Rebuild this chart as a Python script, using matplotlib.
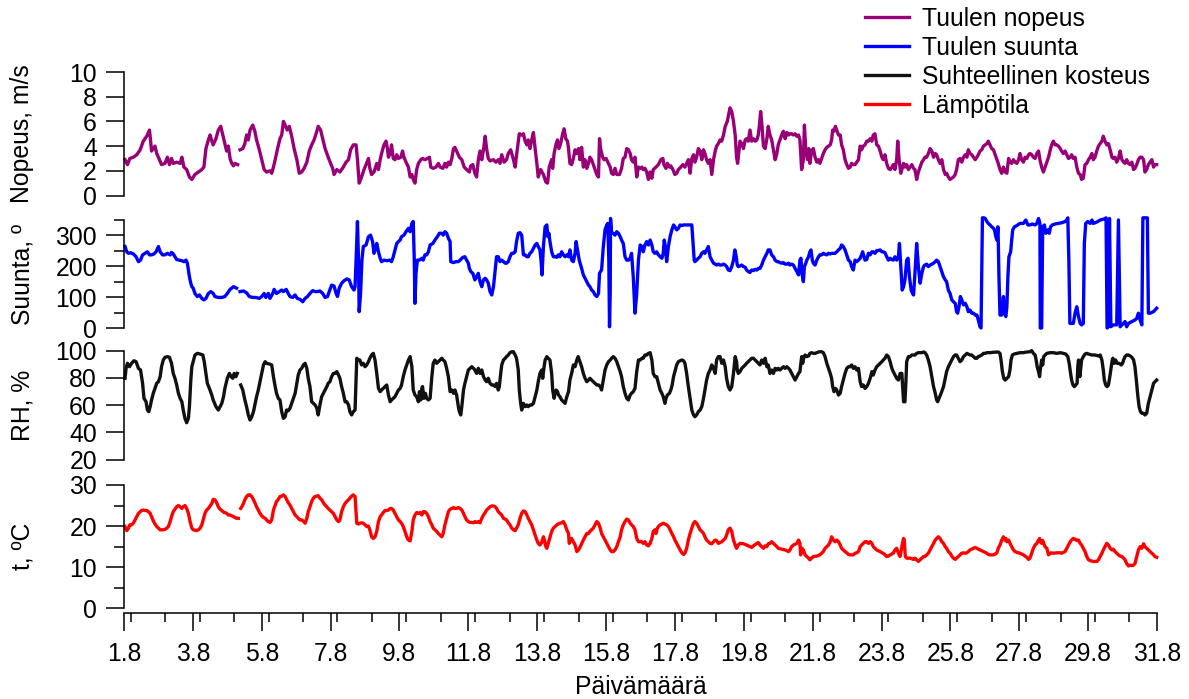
import numpy as np
import matplotlib.pyplot as plt
from matplotlib.ticker import MultipleLocator

nan = np.nan

# (day of August, value); nan marks the short gap in the record
speed_pts = [
    (1.83, 2.9), (1.90, 2.5), (1.97, 3.0), (2.07, 3.1), (2.17, 3.3), (2.27, 3.7), (2.36, 4.4), (2.46, 4.8),
    (2.54, 5.3), (2.57, 4.5), (2.60, 3.6), (2.65, 3.8), (2.70, 4.0), (2.75, 3.4), (2.83, 2.9), (2.89, 2.5),
    (2.99, 2.6), (3.06, 3.1), (3.12, 2.5), (3.18, 3.0), (3.23, 2.6), (3.33, 2.7), (3.43, 2.6), (3.48, 3.1),
    (3.54, 2.3), (3.62, 2.1), (3.70, 1.5), (3.77, 1.3), (3.86, 1.7), (3.96, 1.9), (4.06, 2.1), (4.12, 2.3),
    (4.18, 3.8), (4.25, 4.5), (4.30, 4.9), (4.35, 4.4), (4.39, 4.1), (4.47, 4.6), (4.54, 5.3), (4.61, 5.6),
    (4.67, 4.9), (4.73, 4.2), (4.78, 3.6), (4.83, 4.0), (4.88, 3.0), (4.93, 2.6), (4.98, 2.4), (5.02, 2.6),
    (5.10, 2.5), (5.14, nan), (5.17, 3.7), (5.25, 3.8), (5.31, 4.2), (5.36, 4.9), (5.41, 4.5), (5.46, 5.3),
    (5.54, 5.7), (5.60, 5.2), (5.65, 4.5), (5.73, 3.7), (5.80, 2.9), (5.87, 2.1), (5.94, 1.9), (6.04, 2.0),
    (6.09, 1.8), (6.14, 2.3), (6.19, 2.9), (6.26, 3.8), (6.33, 4.6), (6.38, 4.9), (6.43, 6.0), (6.48, 5.7),
    (6.54, 5.3), (6.60, 5.6), (6.67, 4.8), (6.74, 3.8), (6.82, 2.9), (6.89, 1.8), (6.96, 1.9), (7.03, 2.2),
    (7.11, 2.7), (7.18, 3.6), (7.25, 4.1), (7.32, 4.5), (7.40, 5.2), (7.44, 5.6), (7.51, 5.3), (7.57, 4.6),
    (7.64, 3.8), (7.73, 3.1), (7.80, 2.6), (7.86, 2.2), (7.90, 1.7), (7.98, 2.1), (8.07, 1.9), (8.17, 2.3),
    (8.25, 2.7), (8.32, 2.9), (8.38, 3.7), (8.46, 4.1), (8.54, 4.1), (8.58, 2.9), (8.63, 1.0), (8.70, 1.5),
    (8.77, 2.1), (8.83, 2.5), (8.90, 3.0), (8.94, 2.2), (8.99, 1.7), (9.06, 1.9), (9.14, 2.6), (9.19, 2.1),
    (9.24, 2.9), (9.28, 3.4), (9.35, 4.1), (9.41, 4.4), (9.45, 3.8), (9.48, 3.1), (9.53, 3.4), (9.57, 4.1),
    (9.62, 3.0), (9.67, 2.9), (9.72, 3.3), (9.77, 3.0), (9.84, 3.1), (9.89, 3.6), (9.93, 3.1), (9.99, 2.7),
    (10.06, 2.3), (10.11, 1.5), (10.16, 1.7), (10.20, 1.3), (10.25, 1.0), (10.30, 2.1), (10.35, 2.6), (10.42, 2.9),
    (10.47, 3.0), (10.54, 2.9), (10.61, 3.0), (10.67, 3.1), (10.71, 2.3), (10.78, 2.2), (10.86, 2.3), (10.93, 2.6),
    (10.98, 2.3), (11.06, 2.2), (11.12, 2.6), (11.17, 2.3), (11.22, 2.7), (11.27, 2.5), (11.32, 3.0), (11.37, 3.8),
    (11.41, 3.9), (11.46, 3.6), (11.54, 3.1), (11.61, 2.9), (11.68, 2.3), (11.75, 2.1), (11.83, 1.9), (11.87, 2.4),
    (11.93, 2.5), (11.99, 1.8), (12.04, 1.5), (12.09, 2.9), (12.14, 3.6), (12.19, 2.9), (12.24, 3.7), (12.29, 4.8),
    (12.33, 3.8), (12.38, 3.0), (12.43, 2.8), (12.53, 2.9), (12.60, 2.7), (12.67, 2.9), (12.72, 2.6), (12.77, 3.3),
    (12.84, 2.7), (12.91, 2.9), (12.96, 3.4), (13.03, 3.7), (13.11, 2.9), (13.16, 2.3), (13.22, 3.7), (13.28, 5.0),
    (13.35, 4.9), (13.40, 5.0), (13.45, 4.4), (13.50, 4.1), (13.54, 4.5), (13.59, 3.8), (13.64, 4.5), (13.69, 5.1),
    (13.74, 3.8), (13.79, 2.6), (13.83, 1.5), (13.90, 2.1), (13.98, 1.7), (14.05, 1.1), (14.10, 1.0), (14.15, 2.3),
    (14.22, 2.9), (14.25, 2.2), (14.29, 3.4), (14.35, 4.2), (14.39, 4.5), (14.43, 3.8), (14.48, 4.2), (14.54, 5.0),
    (14.58, 5.4), (14.63, 4.6), (14.68, 4.4), (14.71, 3.8), (14.75, 2.6), (14.80, 2.5), (14.85, 3.0), (14.90, 3.7),
    (14.95, 3.4), (15.00, 3.8), (15.04, 2.9), (15.09, 3.9), (15.14, 2.3), (15.19, 2.9), (15.24, 2.2), (15.29, 2.6),
    (15.33, 3.1), (15.38, 2.9), (15.43, 2.5), (15.48, 2.1), (15.53, 1.7), (15.58, 1.5), (15.61, 4.6), (15.64, 3.8),
    (15.70, 3.1), (15.74, 2.9), (15.80, 3.0), (15.87, 2.6), (15.92, 2.3), (15.96, 1.8), (16.01, 1.7), (16.06, 2.2),
    (16.11, 1.7), (16.19, 1.7), (16.25, 2.2), (16.30, 3.0), (16.35, 3.1), (16.40, 3.8), (16.45, 3.7), (16.50, 3.4),
    (16.54, 2.9), (16.59, 2.7), (16.64, 3.1), (16.69, 1.5), (16.74, 2.3), (16.79, 2.2), (16.84, 2.3), (16.88, 2.1),
    (16.93, 2.2), (16.98, 1.9), (17.03, 1.3), (17.08, 1.9), (17.13, 1.4), (17.17, 2.1), (17.25, 2.3), (17.32, 2.5),
    (17.39, 2.9), (17.45, 3.0), (17.48, 2.5), (17.54, 2.2), (17.58, 2.6), (17.64, 2.3), (17.68, 2.4), (17.74, 2.1),
    (17.80, 1.7), (17.85, 1.8), (17.90, 2.1), (17.97, 2.3), (18.03, 2.5), (18.09, 2.3), (18.14, 2.6), (18.19, 2.9),
    (18.24, 1.8), (18.29, 3.0), (18.34, 3.3), (18.38, 2.7), (18.43, 3.1), (18.48, 3.8), (18.53, 3.6), (18.58, 2.9),
    (18.63, 3.7), (18.67, 3.4), (18.72, 2.9), (18.77, 2.6), (18.82, 2.9), (18.87, 1.7), (18.92, 2.9), (18.97, 3.6),
    (19.01, 4.0), (19.06, 4.2), (19.11, 4.5), (19.16, 4.4), (19.21, 4.9), (19.26, 5.6), (19.32, 6.0), (19.40, 7.1),
    (19.45, 6.8), (19.50, 6.0), (19.55, 4.9), (19.59, 3.1), (19.62, 2.6), (19.65, 3.4), (19.69, 4.4), (19.74, 4.2),
    (19.79, 3.8), (19.84, 4.5), (19.88, 4.6), (19.93, 4.4), (19.98, 5.3), (20.03, 4.4), (20.08, 4.6), (20.13, 4.4),
    (20.18, 4.5), (20.22, 4.9), (20.25, 5.6), (20.29, 6.8), (20.33, 5.6), (20.37, 4.0), (20.42, 3.8), (20.47, 4.6),
    (20.51, 5.6), (20.56, 4.9), (20.61, 4.5), (20.66, 3.7), (20.71, 2.9), (20.76, 3.4), (20.80, 4.1), (20.85, 4.5),
    (20.90, 4.9), (20.95, 5.2), (21.00, 4.6), (21.05, 5.1), (21.10, 4.9), (21.14, 5.0), (21.19, 5.0), (21.24, 4.9),
    (21.29, 5.0), (21.34, 4.8), (21.39, 4.9), (21.43, 4.5), (21.48, 2.1), (21.53, 2.9), (21.56, 5.7), (21.60, 3.7),
    (21.65, 2.9), (21.69, 3.8), (21.72, 2.6), (21.77, 3.6), (21.82, 3.8), (21.87, 3.1), (21.92, 2.7), (21.97, 2.9),
    (22.01, 2.6), (22.06, 3.0), (22.11, 3.4), (22.16, 3.7), (22.21, 3.9), (22.26, 4.0), (22.31, 4.1), (22.35, 4.5),
    (22.38, 5.3), (22.42, 5.2), (22.46, 5.6), (22.50, 5.3), (22.55, 4.9), (22.60, 4.9), (22.64, 4.1), (22.69, 3.7),
    (22.74, 2.9), (22.79, 2.5), (22.84, 2.2), (22.89, 2.3), (22.93, 2.6), (22.98, 2.5), (23.03, 2.5), (23.08, 2.7),
    (23.13, 2.9), (23.18, 4.0), (23.22, 3.7), (23.27, 4.0), (23.32, 4.1), (23.37, 4.4), (23.42, 4.4), (23.47, 4.6),
    (23.52, 4.4), (23.56, 4.9), (23.61, 5.0), (23.66, 4.1), (23.71, 4.0), (23.76, 3.6), (23.81, 3.1), (23.85, 2.9),
    (23.90, 3.3), (23.95, 2.6), (24.00, 2.2), (24.05, 2.1), (24.10, 2.3), (24.14, 2.5), (24.19, 2.1), (24.24, 2.9),
    (24.27, 4.4), (24.31, 2.9), (24.36, 1.8), (24.39, 2.1), (24.44, 2.6), (24.48, 2.3), (24.53, 2.5), (24.58, 2.1),
    (24.63, 2.3), (24.68, 2.5), (24.73, 2.2), (24.77, 2.1), (24.82, 1.3), (24.87, 1.9), (24.92, 2.3), (24.97, 2.7),
    (25.02, 2.9), (25.06, 3.1), (25.11, 3.1), (25.16, 3.4), (25.21, 3.8), (25.26, 3.6), (25.31, 3.1), (25.36, 3.4),
    (25.40, 3.3), (25.45, 2.9), (25.50, 2.6), (25.55, 2.9), (25.60, 2.1), (25.65, 1.7), (25.69, 1.8), (25.74, 1.5),
    (25.79, 1.3), (25.84, 1.4), (25.89, 1.5), (25.94, 1.7), (25.98, 2.1), (26.03, 2.9), (26.08, 3.0), (26.13, 2.7),
    (26.18, 3.1), (26.23, 3.3), (26.28, 3.1), (26.32, 3.7), (26.37, 3.4), (26.42, 3.3), (26.47, 3.1), (26.52, 2.9),
    (26.57, 3.1), (26.61, 3.3), (26.66, 3.6), (26.71, 3.7), (26.76, 4.0), (26.81, 4.1), (26.86, 4.2), (26.90, 4.4),
    (26.95, 4.1), (27.00, 3.8), (27.05, 3.7), (27.10, 3.3), (27.15, 2.9), (27.19, 2.6), (27.24, 2.1), (27.29, 1.8),
    (27.34, 2.3), (27.39, 1.9), (27.44, 1.8), (27.49, 3.0), (27.53, 2.7), (27.58, 2.6), (27.63, 2.9), (27.68, 2.7),
    (27.73, 2.6), (27.78, 2.9), (27.82, 3.4), (27.87, 2.9), (27.92, 2.7), (27.97, 3.1), (28.02, 3.0), (28.07, 3.3),
    (28.11, 3.4), (28.16, 3.3), (28.21, 3.1), (28.26, 3.0), (28.31, 3.4), (28.36, 3.6), (28.40, 2.9), (28.45, 2.3),
    (28.50, 1.9), (28.55, 2.3), (28.60, 2.7), (28.65, 3.1), (28.70, 3.7), (28.74, 4.1), (28.79, 4.4), (28.84, 4.1),
    (28.89, 4.1), (28.94, 4.0), (28.99, 3.8), (29.03, 3.6), (29.08, 3.4), (29.13, 3.6), (29.18, 3.3), (29.23, 3.0),
    (29.28, 3.1), (29.32, 3.3), (29.37, 3.0), (29.42, 3.1), (29.47, 2.3), (29.52, 1.8), (29.57, 1.7), (29.61, 1.3),
    (29.66, 1.4), (29.71, 2.5), (29.76, 2.6), (29.81, 2.9), (29.86, 3.1), (29.91, 3.4), (29.95, 2.9), (30.00, 3.1),
    (30.05, 3.6), (30.10, 4.0), (30.15, 4.2), (30.20, 4.4), (30.24, 4.8), (30.29, 4.4), (30.34, 4.1), (30.39, 4.2),
    (30.44, 3.7), (30.49, 3.1), (30.53, 3.0), (30.58, 3.1), (30.63, 2.7), (30.68, 3.0), (30.73, 3.6), (30.78, 2.9),
    (30.83, 2.7), (30.87, 2.6), (30.92, 2.9), (30.97, 2.6), (31.02, 2.5), (31.07, 2.7), (31.12, 2.1), (31.16, 2.2),
    (31.21, 2.5), (31.26, 2.9), (31.31, 3.1), (31.36, 3.1), (31.41, 2.9), (31.45, 1.9), (31.50, 2.1), (31.55, 2.5),
    (31.60, 2.7), (31.65, 2.9), (31.70, 2.3), (31.74, 2.5), (31.79, 2.5),
]

direction_pts = [
    (1.83, 264), (1.88, 247), (1.93, 242), (1.99, 244), (2.07, 240), (2.15, 231), (2.22, 215), (2.28, 220),
    (2.34, 237), (2.41, 242), (2.48, 247), (2.54, 237), (2.60, 237), (2.67, 240), (2.73, 247), (2.80, 264),
    (2.85, 247), (2.92, 237), (2.99, 237), (3.06, 242), (3.14, 237), (3.18, 245), (3.23, 240), (3.28, 231),
    (3.33, 222), (3.41, 220), (3.48, 218), (3.54, 215), (3.60, 220), (3.64, 210), (3.67, 188), (3.70, 166),
    (3.74, 145), (3.77, 134), (3.81, 129), (3.86, 112), (3.93, 102), (3.99, 107), (4.06, 96), (4.12, 91),
    (4.18, 96), (4.25, 112), (4.32, 118), (4.39, 112), (4.44, 102), (4.54, 99), (4.64, 99), (4.73, 102),
    (4.80, 112), (4.88, 125), (4.98, 134), (5.07, 129), (5.14, nan), (5.17, 118), (5.27, 120), (5.36, 114),
    (5.44, 102), (5.54, 99), (5.63, 99), (5.73, 96), (5.80, 102), (5.87, 112), (5.92, 99), (5.99, 112),
    (6.04, 96), (6.12, 112), (6.16, 125), (6.23, 112), (6.31, 118), (6.38, 123), (6.43, 118), (6.51, 125),
    (6.57, 112), (6.62, 102), (6.70, 99), (6.77, 107), (6.83, 96), (6.91, 93), (6.99, 85), (7.06, 96),
    (7.13, 102), (7.20, 112), (7.28, 121), (7.35, 118), (7.42, 118), (7.49, 120), (7.57, 112), (7.64, 99),
    (7.71, 102), (7.76, 118), (7.83, 139), (7.90, 136), (7.96, 112), (8.00, 102), (8.05, 129), (8.12, 145),
    (8.19, 153), (8.27, 159), (8.34, 156), (8.41, 134), (8.48, 123), (8.51, 134), (8.54, 220), (8.58, 345),
    (8.61, 220), (8.63, 53), (8.67, 112), (8.71, 220), (8.75, 264), (8.83, 269), (8.90, 296), (8.96, 301),
    (9.02, 280), (9.06, 242), (9.11, 258), (9.14, 274), (9.19, 247), (9.24, 226), (9.28, 215), (9.35, 220),
    (9.43, 218), (9.51, 220), (9.57, 215), (9.62, 231), (9.67, 253), (9.72, 274), (9.77, 280), (9.82, 285),
    (9.86, 296), (9.93, 301), (9.99, 312), (10.06, 323), (10.11, 312), (10.16, 339), (10.20, 345), (10.23, 220),
    (10.25, 80), (10.28, 177), (10.32, 220), (10.38, 220), (10.45, 226), (10.49, 220), (10.54, 237), (10.59, 237),
    (10.64, 247), (10.69, 269), (10.77, 274), (10.83, 285), (10.90, 296), (10.96, 307), (11.03, 307), (11.07, 301),
    (11.12, 312), (11.17, 307), (11.22, 291), (11.27, 280), (11.29, 215), (11.37, 212), (11.44, 215), (11.51, 215),
    (11.56, 220), (11.64, 229), (11.70, 231), (11.75, 220), (11.80, 210), (11.83, 193), (11.87, 183), (11.93, 177),
    (11.99, 156), (12.04, 166), (12.09, 177), (12.14, 150), (12.19, 134), (12.24, 156), (12.29, 161), (12.33, 156),
    (12.38, 145), (12.43, 118), (12.48, 107), (12.53, 134), (12.58, 188), (12.62, 231), (12.67, 231), (12.72, 215),
    (12.77, 220), (12.82, 215), (12.87, 210), (12.91, 210), (12.96, 215), (13.01, 231), (13.06, 242), (13.11, 242),
    (13.16, 247), (13.20, 280), (13.25, 307), (13.30, 309), (13.35, 301), (13.40, 237), (13.45, 237), (13.50, 231),
    (13.54, 231), (13.59, 242), (13.64, 247), (13.69, 258), (13.74, 269), (13.79, 274), (13.83, 264), (13.88, 253),
    (13.91, 220), (13.94, 172), (13.98, 264), (14.03, 328), (14.08, 334), (14.11, 296), (14.14, 307), (14.17, 280),
    (14.22, 247), (14.27, 231), (14.32, 231), (14.37, 229), (14.41, 237), (14.46, 231), (14.51, 247), (14.56, 237),
    (14.61, 231), (14.66, 237), (14.71, 231), (14.75, 253), (14.80, 220), (14.85, 215), (14.90, 242), (14.93, 280),
    (14.97, 253), (15.02, 220), (15.09, 193), (15.14, 172), (15.19, 161), (15.24, 150), (15.29, 139), (15.33, 134),
    (15.38, 123), (15.43, 118), (15.48, 107), (15.53, 102), (15.58, 112), (15.61, 177), (15.64, 183), (15.67, 188),
    (15.72, 264), (15.77, 318), (15.82, 334), (15.85, 339), (15.88, 220), (15.90, 4), (15.92, 112), (15.93, 355),
    (15.96, 307), (16.01, 307), (16.06, 301), (16.11, 312), (16.16, 307), (16.21, 296), (16.25, 285), (16.30, 274),
    (16.35, 231), (16.40, 220), (16.45, 220), (16.50, 226), (16.54, 242), (16.59, 166), (16.64, 48), (16.69, 112),
    (16.74, 220), (16.79, 269), (16.84, 264), (16.88, 247), (16.93, 269), (16.98, 280), (17.03, 269), (17.08, 285),
    (17.13, 269), (17.17, 247), (17.22, 242), (17.27, 247), (17.32, 237), (17.37, 231), (17.42, 226), (17.46, 242),
    (17.49, 285), (17.52, 264), (17.56, 215), (17.61, 264), (17.66, 296), (17.71, 318), (17.76, 334), (17.80, 328),
    (17.85, 318), (17.90, 323), (17.95, 334), (18.00, 332), (18.05, 334), (18.14, 334), (18.24, 334), (18.29, 334),
    (18.32, 285), (18.36, 220), (18.38, 215), (18.43, 220), (18.48, 226), (18.53, 231), (18.58, 242), (18.63, 247),
    (18.67, 242), (18.72, 253), (18.77, 264), (18.82, 231), (18.87, 220), (18.92, 210), (18.97, 207), (19.01, 204),
    (19.06, 207), (19.11, 204), (19.16, 204), (19.21, 207), (19.26, 204), (19.30, 199), (19.35, 188), (19.40, 186),
    (19.45, 199), (19.50, 220), (19.54, 253), (19.58, 231), (19.61, 204), (19.64, 199), (19.69, 201), (19.74, 204),
    (19.79, 199), (19.84, 197), (19.88, 188), (19.93, 183), (19.98, 180), (20.03, 188), (20.08, 186), (20.13, 190),
    (20.18, 188), (20.22, 193), (20.27, 193), (20.32, 204), (20.37, 220), (20.42, 231), (20.47, 242), (20.51, 253),
    (20.56, 253), (20.61, 237), (20.66, 231), (20.71, 220), (20.76, 215), (20.80, 215), (20.85, 212), (20.90, 210),
    (20.95, 212), (21.00, 207), (21.05, 207), (21.10, 210), (21.14, 204), (21.19, 207), (21.24, 204), (21.29, 193),
    (21.34, 183), (21.39, 172), (21.43, 220), (21.46, 226), (21.49, 177), (21.53, 150), (21.56, 199), (21.60, 210),
    (21.63, 220), (21.68, 231), (21.72, 247), (21.75, 253), (21.79, 220), (21.82, 210), (21.87, 204), (21.92, 220),
    (21.97, 231), (22.01, 237), (22.06, 237), (22.11, 242), (22.16, 239), (22.21, 237), (22.26, 242), (22.31, 240),
    (22.35, 242), (22.40, 242), (22.45, 242), (22.50, 247), (22.55, 253), (22.60, 258), (22.64, 269), (22.69, 264),
    (22.74, 253), (22.79, 237), (22.84, 220), (22.89, 215), (22.93, 199), (22.98, 188), (23.03, 220), (23.08, 215),
    (23.13, 220), (23.18, 226), (23.22, 237), (23.25, 247), (23.29, 231), (23.32, 220), (23.37, 222), (23.42, 242),
    (23.47, 237), (23.52, 247), (23.56, 247), (23.61, 242), (23.66, 251), (23.71, 251), (23.76, 253), (23.81, 247),
    (23.85, 247), (23.90, 244), (23.95, 231), (24.00, 220), (24.05, 226), (24.10, 222), (24.14, 220), (24.19, 231),
    (24.24, 220), (24.29, 231), (24.32, 274), (24.36, 199), (24.40, 123), (24.44, 134), (24.48, 156), (24.53, 220),
    (24.57, 226), (24.61, 166), (24.66, 123), (24.70, 112), (24.73, 107), (24.77, 177), (24.82, 274), (24.87, 199),
    (24.92, 145), (24.97, 177), (25.02, 199), (25.06, 204), (25.11, 207), (25.16, 199), (25.21, 204), (25.26, 207),
    (25.31, 210), (25.36, 215), (25.40, 220), (25.45, 215), (25.50, 199), (25.55, 183), (25.60, 166), (25.65, 156),
    (25.69, 150), (25.74, 123), (25.79, 112), (25.84, 91), (25.89, 85), (25.94, 80), (25.98, 53), (26.01, 48),
    (26.05, 69), (26.09, 102), (26.13, 91), (26.18, 75), (26.23, 80), (26.28, 69), (26.32, 53), (26.37, 58),
    (26.42, 48), (26.47, 48), (26.52, 42), (26.57, 42), (26.61, 26), (26.66, 4), (26.69, 0), (26.73, 357),
    (26.77, 357), (26.81, 355), (26.86, 345), (26.90, 339), (26.95, 334), (27.00, 328), (27.05, 323), (27.08, 318),
    (27.12, 296), (27.15, 285), (27.18, 328), (27.19, 285), (27.21, 166), (27.24, 42), (27.29, 42), (27.34, 102),
    (27.37, 48), (27.41, 37), (27.44, 69), (27.47, 166), (27.50, 231), (27.55, 247), (27.58, 285), (27.61, 318),
    (27.66, 328), (27.73, 332), (27.82, 339), (27.92, 339), (27.99, 350), (28.05, 334), (28.11, 334), (28.18, 337),
    (28.26, 334), (28.31, 339), (28.36, 355), (28.40, 339), (28.41, 0), (28.45, 0), (28.48, 328), (28.53, 334),
    (28.57, 307), (28.63, 318), (28.67, 307), (28.71, 328), (28.76, 334), (28.84, 337), (28.94, 339), (29.03, 341),
    (29.13, 345), (29.18, 350), (29.21, 357), (29.24, 220), (29.27, 15), (29.32, 15), (29.37, 15), (29.42, 48),
    (29.47, 69), (29.52, 37), (29.57, 15), (29.61, 10), (29.66, 15), (29.69, 274), (29.73, 339), (29.79, 345),
    (29.86, 339), (29.91, 350), (29.95, 339), (30.00, 341), (30.08, 345), (30.15, 350), (30.22, 352), (30.29, 354),
    (30.32, 357), (30.35, 0), (30.39, 4), (30.42, 355), (30.46, 4), (30.53, 10), (30.63, 10), (30.68, 350),
    (30.73, 4), (30.78, 10), (30.83, 15), (30.87, 21), (30.92, 4), (30.97, 15), (31.07, 21), (31.16, 26),
    (31.21, 31), (31.26, 48), (31.31, 26), (31.36, 10), (31.39, 357), (31.45, 357), (31.52, 357), (31.55, 48),
    (31.60, 48), (31.70, 53), (31.79, 64),
]

rh_pts = [
    (1.83, 79.6), (1.86, 86.9), (1.90, 90.6), (1.96, 88.1), (2.02, 90.6), (2.09, 92.5), (2.15, 91.8), (2.22, 86.9),
    (2.28, 85.7), (2.34, 75.9), (2.38, 64.9), (2.44, 62.4), (2.48, 56.3), (2.52, 55.1), (2.56, 58.8), (2.60, 63.7),
    (2.65, 68.6), (2.70, 72.2), (2.75, 75.9), (2.80, 77.1), (2.85, 80.8), (2.89, 88.1), (2.94, 93.0), (2.99, 95.0),
    (3.06, 95.5), (3.12, 95.0), (3.18, 90.6), (3.23, 83.2), (3.28, 79.6), (3.33, 74.7), (3.38, 68.6), (3.43, 64.9),
    (3.48, 62.4), (3.52, 56.3), (3.57, 50.2), (3.62, 47.0), (3.67, 50.2), (3.70, 58.8), (3.74, 78.3), (3.77, 88.1),
    (3.81, 91.8), (3.86, 96.7), (3.93, 97.9), (4.01, 97.4), (4.09, 96.7), (4.13, 91.8), (4.18, 83.2), (4.22, 75.9),
    (4.28, 72.2), (4.35, 67.3), (4.39, 63.7), (4.47, 58.8), (4.54, 56.3), (4.59, 58.8), (4.64, 61.2), (4.69, 66.1),
    (4.73, 72.2), (4.80, 79.6), (4.86, 83.2), (4.91, 80.8), (4.96, 79.6), (5.00, 83.2), (5.05, 80.8), (5.09, 83.2),
    (5.14, nan), (5.19, 74.7), (5.25, 71.0), (5.31, 63.7), (5.36, 58.8), (5.41, 52.7), (5.46, 49.0), (5.51, 51.4),
    (5.56, 55.1), (5.61, 61.2), (5.65, 66.1), (5.70, 71.0), (5.75, 77.1), (5.80, 83.2), (5.85, 89.4), (5.90, 91.8),
    (5.94, 90.6), (6.02, 90.1), (6.09, 89.4), (6.14, 80.8), (6.19, 73.5), (6.23, 68.6), (6.28, 64.9), (6.33, 63.7),
    (6.38, 55.1), (6.43, 50.2), (6.48, 51.4), (6.52, 56.3), (6.57, 55.8), (6.62, 57.6), (6.67, 61.2), (6.72, 64.9),
    (6.77, 68.6), (6.82, 75.9), (6.86, 82.0), (6.91, 85.7), (6.96, 86.9), (7.01, 89.4), (7.06, 90.6), (7.11, 86.9),
    (7.15, 79.6), (7.20, 73.5), (7.25, 62.4), (7.30, 61.2), (7.35, 60.0), (7.40, 57.6), (7.44, 52.7), (7.49, 60.0),
    (7.54, 66.1), (7.59, 68.6), (7.64, 71.0), (7.69, 73.5), (7.73, 75.9), (7.78, 77.1), (7.83, 80.8), (7.88, 83.2),
    (7.93, 83.2), (7.98, 84.5), (8.03, 82.0), (8.07, 79.6), (8.12, 73.5), (8.17, 68.6), (8.22, 62.4), (8.27, 62.4),
    (8.32, 60.0), (8.36, 55.1), (8.41, 52.7), (8.46, 55.1), (8.51, 56.3), (8.56, 94.3), (8.61, 93.0), (8.65, 93.0),
    (8.70, 89.4), (8.75, 90.6), (8.80, 88.1), (8.85, 89.4), (8.90, 91.8), (8.94, 94.3), (8.99, 96.7), (9.04, 97.9),
    (9.09, 93.0), (9.14, 83.2), (9.19, 72.2), (9.24, 69.8), (9.28, 71.0), (9.33, 72.2), (9.38, 73.5), (9.43, 74.7),
    (9.48, 67.3), (9.53, 62.4), (9.57, 63.7), (9.62, 64.9), (9.67, 66.1), (9.72, 68.6), (9.77, 71.0), (9.82, 72.2),
    (9.86, 74.7), (9.91, 80.8), (9.96, 85.7), (10.01, 89.4), (10.06, 93.0), (10.11, 95.5), (10.16, 88.1), (10.20, 71.0),
    (10.25, 67.3), (10.30, 66.1), (10.35, 62.4), (10.38, 69.8), (10.42, 63.7), (10.45, 72.2), (10.47, 73.5), (10.51, 64.9),
    (10.55, 68.6), (10.59, 64.9), (10.64, 63.7), (10.69, 64.9), (10.74, 80.8), (10.78, 90.6), (10.83, 93.0), (10.88, 90.6),
    (10.93, 91.8), (10.98, 93.0), (11.03, 94.3), (11.07, 93.0), (11.12, 91.8), (11.17, 86.9), (11.22, 80.8), (11.27, 69.8),
    (11.32, 71.0), (11.37, 68.6), (11.41, 71.0), (11.46, 67.3), (11.51, 58.8), (11.54, 55.1), (11.58, 52.7), (11.61, 58.8),
    (11.66, 71.0), (11.70, 75.9), (11.75, 80.8), (11.80, 85.7), (11.85, 86.9), (11.90, 88.1), (11.95, 86.9), (11.99, 85.7),
    (12.04, 83.2), (12.09, 86.9), (12.14, 83.2), (12.19, 85.7), (12.24, 80.8), (12.29, 78.3), (12.33, 77.1), (12.38, 79.6),
    (12.43, 75.9), (12.48, 74.7), (12.53, 74.7), (12.58, 73.5), (12.62, 75.9), (12.67, 71.0), (12.70, 73.5), (12.74, 83.2),
    (12.77, 89.4), (12.82, 93.0), (12.87, 94.3), (12.91, 95.5), (12.96, 96.7), (13.01, 98.4), (13.06, 99.1), (13.11, 99.1),
    (13.16, 96.7), (13.20, 94.3), (13.25, 85.7), (13.28, 71.0), (13.32, 61.2), (13.35, 56.3), (13.40, 61.2), (13.45, 58.8),
    (13.50, 60.0), (13.54, 58.8), (13.59, 60.0), (13.64, 60.0), (13.69, 61.2), (13.74, 66.1), (13.79, 71.0), (13.83, 77.1),
    (13.88, 83.2), (13.93, 85.7), (13.96, 79.6), (14.00, 88.1), (14.03, 93.0), (14.08, 95.5), (14.12, 94.3), (14.17, 93.0),
    (14.22, 83.2), (14.25, 71.0), (14.29, 64.9), (14.32, 68.6), (14.35, 71.0), (14.39, 69.8), (14.42, 67.3), (14.46, 66.1),
    (14.51, 63.7), (14.56, 62.4), (14.61, 61.2), (14.66, 66.1), (14.71, 69.8), (14.75, 78.3), (14.80, 83.2), (14.85, 89.4),
    (14.90, 88.1), (14.95, 93.0), (14.99, 95.5), (15.04, 91.8), (15.09, 88.1), (15.14, 83.2), (15.19, 79.6), (15.24, 77.1),
    (15.29, 78.3), (15.33, 79.6), (15.38, 78.3), (15.43, 77.1), (15.48, 75.9), (15.53, 74.7), (15.58, 74.7), (15.63, 73.5),
    (15.67, 71.0), (15.72, 78.3), (15.77, 85.7), (15.82, 89.4), (15.87, 91.8), (15.92, 93.0), (15.96, 94.3), (16.01, 95.5),
    (16.06, 94.3), (16.11, 91.8), (16.16, 88.1), (16.21, 84.5), (16.25, 80.8), (16.30, 73.5), (16.35, 68.6), (16.40, 64.9),
    (16.45, 63.7), (16.50, 67.3), (16.54, 68.6), (16.59, 69.8), (16.64, 72.2), (16.69, 84.5), (16.74, 93.0), (16.79, 93.0),
    (16.84, 94.3), (16.88, 94.3), (16.93, 96.7), (16.98, 96.7), (17.03, 97.9), (17.08, 98.4), (17.13, 93.0), (17.17, 83.2),
    (17.22, 80.8), (17.27, 80.8), (17.32, 75.9), (17.37, 71.0), (17.42, 68.6), (17.46, 66.1), (17.51, 61.2), (17.54, 64.9),
    (17.58, 67.3), (17.64, 68.6), (17.68, 71.0), (17.72, 74.7), (17.76, 80.8), (17.80, 84.5), (17.85, 89.4), (17.90, 91.8),
    (17.95, 92.5), (18.00, 93.0), (18.05, 92.5), (18.09, 90.6), (18.14, 83.2), (18.19, 73.5), (18.24, 64.9), (18.29, 56.3),
    (18.34, 52.7), (18.38, 51.4), (18.43, 52.7), (18.48, 55.1), (18.53, 56.3), (18.58, 58.8), (18.63, 64.9), (18.67, 71.0),
    (18.72, 78.3), (18.77, 83.2), (18.82, 85.7), (18.87, 89.4), (18.92, 86.9), (18.97, 83.2), (19.01, 93.0), (19.06, 95.5),
    (19.11, 95.5), (19.16, 90.6), (19.21, 93.0), (19.26, 88.1), (19.30, 79.6), (19.35, 73.5), (19.40, 71.0), (19.45, 73.5),
    (19.50, 83.2), (19.55, 95.5), (19.59, 91.8), (19.61, 85.7), (19.64, 83.2), (19.69, 84.5), (19.74, 86.9), (19.79, 88.1),
    (19.84, 89.4), (19.88, 90.6), (19.93, 91.8), (19.98, 93.0), (20.03, 94.3), (20.08, 94.3), (20.13, 93.0), (20.18, 91.8),
    (20.22, 90.6), (20.27, 89.4), (20.32, 93.0), (20.37, 90.6), (20.42, 94.3), (20.47, 88.1), (20.51, 89.4), (20.56, 83.2),
    (20.61, 85.7), (20.66, 83.2), (20.71, 86.9), (20.76, 85.7), (20.80, 86.9), (20.85, 85.7), (20.90, 86.9), (20.95, 88.1),
    (21.00, 86.9), (21.05, 88.1), (21.10, 86.9), (21.14, 85.7), (21.19, 83.2), (21.24, 80.8), (21.29, 78.3), (21.34, 80.8),
    (21.39, 83.2), (21.43, 84.5), (21.48, 95.5), (21.51, 90.6), (21.55, 95.5), (21.58, 96.7), (21.63, 95.5), (21.68, 96.0),
    (21.72, 97.9), (21.77, 98.4), (21.82, 97.9), (21.87, 97.9), (21.92, 98.4), (21.97, 98.9), (22.01, 99.1), (22.06, 99.1),
    (22.11, 98.4), (22.16, 95.5), (22.21, 90.6), (22.26, 86.9), (22.31, 83.2), (22.35, 79.6), (22.38, 73.5), (22.42, 69.8),
    (22.46, 72.2), (22.50, 71.0), (22.55, 67.3), (22.60, 68.6), (22.64, 73.5), (22.69, 78.3), (22.74, 83.2), (22.79, 86.9),
    (22.84, 88.1), (22.89, 88.1), (22.93, 89.4), (22.98, 86.9), (23.03, 88.1), (23.08, 85.7), (23.13, 86.9), (23.18, 77.1),
    (23.22, 73.5), (23.27, 74.7), (23.32, 72.2), (23.37, 73.5), (23.42, 75.9), (23.47, 79.6), (23.52, 84.5), (23.56, 82.0),
    (23.61, 85.7), (23.66, 88.1), (23.71, 89.4), (23.76, 90.6), (23.81, 91.8), (23.85, 93.0), (23.90, 94.3), (23.95, 96.7),
    (24.00, 95.5), (24.05, 91.8), (24.10, 86.9), (24.14, 84.5), (24.19, 82.0), (24.24, 79.6), (24.29, 78.3), (24.34, 83.2),
    (24.39, 83.2), (24.42, 71.0), (24.44, 62.4), (24.48, 62.4), (24.51, 78.3), (24.53, 91.8), (24.58, 95.5), (24.63, 95.5),
    (24.68, 96.7), (24.73, 96.7), (24.77, 96.7), (24.82, 97.9), (24.87, 98.4), (24.92, 98.4), (24.97, 98.4), (25.02, 98.9),
    (25.06, 98.5), (25.11, 96.7), (25.16, 93.0), (25.21, 88.1), (25.26, 80.8), (25.31, 73.5), (25.36, 68.6), (25.40, 63.7),
    (25.43, 62.4), (25.47, 64.9), (25.53, 68.6), (25.60, 73.5), (25.65, 79.6), (25.69, 84.5), (25.74, 88.1), (25.79, 90.6),
    (25.84, 93.0), (25.89, 95.5), (25.94, 96.7), (25.98, 96.7), (26.03, 94.3), (26.08, 91.8), (26.13, 93.0), (26.18, 95.5),
    (26.23, 96.7), (26.28, 97.9), (26.32, 97.4), (26.37, 96.7), (26.42, 96.7), (26.47, 95.5), (26.52, 94.3), (26.57, 94.3),
    (26.61, 95.5), (26.66, 96.0), (26.71, 96.7), (26.76, 97.9), (26.81, 97.9), (26.86, 98.4), (26.95, 98.4), (27.05, 98.7),
    (27.15, 98.9), (27.19, 98.9), (27.24, 97.9), (27.27, 93.0), (27.31, 84.5), (27.35, 79.6), (27.39, 78.3), (27.44, 79.6),
    (27.49, 80.8), (27.53, 85.7), (27.56, 93.0), (27.60, 96.7), (27.65, 97.4), (27.73, 97.9), (27.82, 98.4), (27.92, 98.4),
    (28.02, 98.9), (28.11, 99.1), (28.16, 99.9), (28.21, 97.9), (28.26, 96.7), (28.29, 93.0), (28.32, 88.1), (28.36, 84.5),
    (28.39, 80.8), (28.41, 85.7), (28.45, 93.0), (28.48, 89.4), (28.51, 95.5), (28.55, 96.7), (28.60, 97.9), (28.70, 98.4),
    (28.79, 98.4), (28.89, 97.9), (28.99, 98.4), (29.08, 97.9), (29.15, 97.4), (29.21, 95.5), (29.25, 90.6), (29.29, 83.2),
    (29.32, 78.3), (29.36, 74.7), (29.40, 73.5), (29.44, 74.7), (29.48, 75.9), (29.50, 88.1), (29.52, 93.0), (29.56, 80.8),
    (29.59, 88.1), (29.61, 93.0), (29.66, 95.5), (29.71, 97.4), (29.76, 97.9), (29.81, 97.4), (29.91, 96.7), (30.00, 96.7),
    (30.10, 96.0), (30.15, 96.7), (30.20, 93.0), (30.24, 85.7), (30.27, 78.3), (30.31, 74.7), (30.35, 73.5), (30.39, 74.7),
    (30.43, 80.8), (30.47, 88.1), (30.50, 93.0), (30.52, 94.3), (30.56, 90.6), (30.60, 93.0), (30.64, 90.6), (30.70, 90.6),
    (30.76, 89.4), (30.80, 90.6), (30.83, 93.0), (30.87, 95.5), (30.92, 96.7), (30.97, 96.7), (31.02, 96.0), (31.07, 95.0),
    (31.12, 93.0), (31.16, 88.1), (31.20, 78.3), (31.24, 67.3), (31.28, 58.8), (31.32, 55.1), (31.36, 53.9), (31.41, 53.9),
    (31.45, 52.7), (31.50, 53.9), (31.55, 61.2), (31.60, 66.1), (31.65, 71.0), (31.70, 75.9), (31.74, 77.1), (31.79, 78.3),
]

temp_pts = [
    (1.83, 19.9), (1.88, 18.9), (1.93, 19.5), (1.97, 20.3), (2.02, 20.3), (2.07, 20.7), (2.12, 21.5), (2.17, 22.3),
    (2.22, 23.1), (2.27, 23.5), (2.31, 23.8), (2.36, 23.9), (2.41, 23.8), (2.46, 23.8), (2.51, 23.5), (2.56, 23.1),
    (2.60, 22.3), (2.65, 21.3), (2.70, 20.5), (2.75, 19.9), (2.80, 19.5), (2.85, 19.1), (2.94, 19.1), (2.99, 19.2),
    (3.04, 19.5), (3.09, 19.9), (3.14, 21.1), (3.18, 22.3), (3.23, 23.5), (3.28, 24.1), (3.33, 24.7), (3.38, 25.0),
    (3.43, 24.7), (3.48, 24.3), (3.52, 24.7), (3.57, 25.0), (3.62, 24.3), (3.67, 23.1), (3.72, 21.1), (3.77, 19.5),
    (3.81, 19.1), (3.91, 18.9), (3.96, 19.1), (4.01, 19.5), (4.06, 20.3), (4.10, 21.5), (4.15, 23.1), (4.20, 23.9),
    (4.25, 24.3), (4.30, 24.9), (4.35, 25.5), (4.39, 26.5), (4.44, 26.4), (4.49, 25.7), (4.54, 24.7), (4.59, 24.1),
    (4.64, 23.8), (4.69, 23.4), (4.73, 23.3), (4.78, 23.1), (4.83, 22.7), (4.88, 22.7), (4.93, 22.5), (4.98, 22.3),
    (5.02, 22.1), (5.07, 21.9), (5.12, 21.9), (5.14, nan), (5.19, 24.3), (5.22, 24.7), (5.27, 25.5), (5.31, 26.4),
    (5.36, 27.2), (5.41, 27.6), (5.46, 27.6), (5.51, 27.2), (5.56, 26.4), (5.61, 25.5), (5.65, 24.7), (5.70, 23.9),
    (5.75, 23.1), (5.80, 22.5), (5.85, 22.1), (5.90, 21.9), (5.94, 21.5), (5.99, 21.1), (6.04, 20.9), (6.09, 21.5),
    (6.14, 23.9), (6.19, 25.1), (6.23, 26.0), (6.28, 26.5), (6.33, 27.2), (6.38, 27.3), (6.43, 27.6), (6.48, 27.2),
    (6.52, 26.5), (6.57, 25.7), (6.62, 25.1), (6.67, 24.3), (6.72, 23.5), (6.77, 22.7), (6.82, 22.3), (6.86, 21.9),
    (6.91, 21.5), (6.96, 21.5), (7.01, 21.2), (7.06, 20.7), (7.11, 21.9), (7.15, 23.5), (7.20, 24.7), (7.25, 26.0),
    (7.30, 26.8), (7.35, 27.2), (7.40, 27.3), (7.44, 27.4), (7.49, 26.8), (7.54, 26.4), (7.59, 25.7), (7.64, 25.1),
    (7.69, 24.7), (7.73, 24.3), (7.78, 23.9), (7.83, 23.5), (7.88, 23.1), (7.93, 22.3), (7.98, 21.5), (8.03, 21.1),
    (8.07, 21.5), (8.12, 23.5), (8.17, 24.7), (8.22, 25.5), (8.27, 26.0), (8.32, 26.4), (8.36, 26.8), (8.41, 27.3),
    (8.46, 27.6), (8.51, 27.2), (8.56, 20.7), (8.61, 20.5), (8.65, 20.7), (8.70, 20.8), (8.75, 20.7), (8.80, 20.3),
    (8.85, 19.9), (8.90, 20.0), (8.94, 19.1), (8.99, 17.4), (9.04, 17.0), (9.09, 17.4), (9.14, 18.7), (9.19, 21.1),
    (9.24, 22.3), (9.28, 22.7), (9.33, 23.3), (9.38, 23.8), (9.43, 23.8), (9.48, 23.9), (9.53, 24.3), (9.57, 24.3),
    (9.62, 23.9), (9.67, 23.1), (9.72, 22.3), (9.77, 21.5), (9.82, 21.1), (9.86, 20.7), (9.91, 19.9), (9.96, 18.7),
    (10.01, 17.4), (10.06, 16.6), (10.11, 16.4), (10.16, 18.7), (10.20, 21.5), (10.25, 22.7), (10.30, 23.3), (10.35, 23.1),
    (10.40, 23.3), (10.45, 22.7), (10.49, 23.5), (10.54, 23.5), (10.59, 23.1), (10.64, 22.3), (10.69, 21.1), (10.74, 20.3),
    (10.78, 19.5), (10.83, 19.1), (10.88, 18.7), (10.93, 18.2), (10.98, 17.8), (11.03, 17.4), (11.07, 18.2), (11.12, 20.3),
    (11.17, 21.9), (11.22, 23.5), (11.27, 24.1), (11.32, 24.3), (11.37, 24.5), (11.41, 24.3), (11.46, 24.3), (11.51, 24.5),
    (11.56, 24.3), (11.61, 23.9), (11.66, 23.1), (11.70, 22.3), (11.75, 21.5), (11.80, 21.1), (11.85, 20.9), (11.90, 20.9),
    (11.95, 20.8), (11.99, 21.1), (12.04, 20.9), (12.09, 21.1), (12.14, 20.8), (12.19, 21.9), (12.24, 22.7), (12.29, 23.3),
    (12.33, 23.9), (12.38, 24.3), (12.43, 24.7), (12.48, 24.9), (12.53, 24.9), (12.58, 24.7), (12.62, 24.3), (12.67, 23.5),
    (12.72, 23.1), (12.77, 22.7), (12.82, 21.9), (12.87, 21.7), (12.91, 21.5), (12.96, 20.8), (13.01, 20.3), (13.06, 19.5),
    (13.11, 19.1), (13.16, 18.9), (13.20, 19.5), (13.25, 20.3), (13.30, 21.9), (13.35, 23.1), (13.40, 23.7), (13.45, 23.5),
    (13.50, 22.7), (13.54, 21.9), (13.59, 21.1), (13.64, 20.3), (13.69, 19.1), (13.74, 17.8), (13.79, 16.6), (13.83, 15.8),
    (13.88, 15.4), (13.93, 16.0), (13.98, 17.4), (14.01, 16.6), (14.05, 15.0), (14.08, 14.6), (14.12, 15.8), (14.17, 17.4),
    (14.22, 18.7), (14.27, 19.5), (14.32, 19.9), (14.37, 20.3), (14.41, 20.5), (14.46, 20.7), (14.51, 20.8), (14.56, 21.1),
    (14.61, 20.3), (14.66, 19.1), (14.71, 18.2), (14.73, 15.8), (14.77, 16.6), (14.80, 17.0), (14.85, 16.2), (14.90, 15.4),
    (14.95, 13.8), (15.00, 14.2), (15.04, 14.8), (15.09, 15.7), (15.14, 16.6), (15.19, 17.4), (15.24, 18.2), (15.29, 18.2),
    (15.33, 18.7), (15.38, 19.1), (15.43, 19.5), (15.48, 20.3), (15.53, 21.1), (15.58, 20.7), (15.63, 19.5), (15.67, 18.2),
    (15.72, 17.4), (15.77, 16.6), (15.82, 15.8), (15.87, 15.0), (15.92, 14.2), (15.96, 13.8), (16.01, 13.8), (16.06, 14.2),
    (16.11, 15.0), (16.16, 16.2), (16.21, 17.4), (16.25, 19.1), (16.30, 20.3), (16.35, 21.1), (16.40, 21.7), (16.45, 21.5),
    (16.50, 20.7), (16.54, 20.3), (16.59, 19.9), (16.64, 19.1), (16.69, 17.0), (16.74, 16.2), (16.79, 16.2), (16.84, 16.2),
    (16.88, 15.8), (16.93, 16.2), (16.98, 15.4), (17.03, 15.2), (17.08, 15.8), (17.13, 17.0), (17.17, 18.7), (17.22, 19.1),
    (17.25, 18.2), (17.29, 19.5), (17.32, 19.9), (17.37, 20.3), (17.42, 20.5), (17.46, 20.7), (17.51, 20.5), (17.56, 20.3),
    (17.61, 19.9), (17.66, 19.1), (17.71, 18.2), (17.76, 17.4), (17.80, 16.6), (17.85, 15.8), (17.90, 15.0), (17.95, 14.2),
    (18.00, 13.5), (18.05, 13.1), (18.09, 13.4), (18.14, 14.6), (18.19, 16.6), (18.24, 18.2), (18.29, 19.5), (18.34, 20.7),
    (18.38, 21.1), (18.43, 20.7), (18.48, 19.9), (18.53, 19.1), (18.58, 18.7), (18.63, 18.2), (18.67, 17.4), (18.72, 16.6),
    (18.77, 16.2), (18.82, 15.8), (18.87, 15.7), (18.92, 16.2), (18.97, 16.6), (19.01, 16.5), (19.06, 15.8), (19.11, 16.0),
    (19.16, 16.2), (19.21, 16.6), (19.26, 17.0), (19.30, 17.8), (19.35, 19.1), (19.40, 19.5), (19.45, 18.7), (19.50, 16.6),
    (19.55, 15.4), (19.59, 14.6), (19.64, 15.4), (19.69, 15.8), (19.79, 15.7), (19.88, 15.4), (19.98, 15.0), (20.03, 14.8),
    (20.08, 15.2), (20.18, 15.8), (20.22, 16.0), (20.27, 15.4), (20.32, 15.0), (20.37, 14.6), (20.42, 15.2), (20.47, 15.0),
    (20.51, 15.7), (20.56, 15.8), (20.61, 16.2), (20.66, 15.8), (20.71, 15.4), (20.76, 15.0), (20.80, 14.6), (20.90, 14.4),
    (21.00, 14.2), (21.05, 14.0), (21.10, 13.8), (21.14, 14.2), (21.19, 15.0), (21.24, 15.4), (21.34, 15.8), (21.39, 16.6),
    (21.43, 15.8), (21.45, 13.0), (21.49, 14.6), (21.53, 14.2), (21.58, 13.0), (21.63, 12.6), (21.68, 12.2), (21.72, 11.8),
    (21.77, 12.2), (21.82, 12.6), (21.92, 12.7), (22.01, 13.0), (22.06, 13.4), (22.11, 13.8), (22.16, 14.6), (22.21, 15.0),
    (22.26, 15.4), (22.31, 16.2), (22.35, 17.4), (22.40, 16.6), (22.45, 16.2), (22.50, 16.6), (22.55, 16.2), (22.60, 15.4),
    (22.64, 14.6), (22.69, 14.2), (22.74, 13.8), (22.79, 13.5), (22.84, 13.1), (22.89, 13.0), (22.98, 13.0), (23.03, 13.4),
    (23.08, 13.5), (23.13, 13.8), (23.18, 15.0), (23.22, 15.4), (23.27, 15.8), (23.32, 16.2), (23.37, 16.2), (23.42, 15.8),
    (23.47, 16.2), (23.52, 15.8), (23.56, 15.0), (23.61, 14.6), (23.66, 14.2), (23.71, 14.0), (23.76, 13.8), (23.81, 13.5),
    (23.85, 13.4), (23.90, 13.0), (23.95, 12.6), (24.00, 12.7), (24.05, 13.0), (24.10, 13.2), (24.14, 13.4), (24.19, 14.2),
    (24.24, 14.6), (24.29, 13.4), (24.34, 12.6), (24.39, 15.0), (24.44, 17.0), (24.46, 16.6), (24.49, 12.6), (24.53, 12.2),
    (24.63, 12.2), (24.73, 11.9), (24.77, 12.2), (24.82, 11.8), (24.87, 11.4), (24.92, 11.8), (24.97, 12.2), (25.02, 12.6),
    (25.06, 12.6), (25.11, 13.0), (25.16, 13.4), (25.21, 14.2), (25.26, 15.0), (25.31, 15.8), (25.36, 16.6), (25.40, 17.0),
    (25.45, 17.4), (25.50, 17.0), (25.55, 16.2), (25.60, 15.8), (25.65, 15.0), (25.69, 14.6), (25.74, 13.8), (25.79, 13.4),
    (25.84, 12.7), (25.89, 12.2), (25.94, 11.9), (25.98, 12.2), (26.03, 12.6), (26.08, 13.0), (26.13, 13.4), (26.18, 13.5),
    (26.23, 13.4), (26.28, 13.5), (26.32, 13.8), (26.37, 14.2), (26.42, 14.4), (26.47, 14.6), (26.52, 14.8), (26.57, 14.6),
    (26.61, 14.4), (26.66, 14.2), (26.71, 14.0), (26.76, 13.8), (26.81, 13.6), (26.86, 13.4), (26.90, 13.1), (26.95, 13.0),
    (27.05, 13.0), (27.10, 13.2), (27.15, 13.5), (27.19, 14.6), (27.24, 15.4), (27.29, 16.6), (27.34, 17.4), (27.37, 16.6),
    (27.41, 17.0), (27.44, 16.2), (27.49, 16.6), (27.53, 15.8), (27.58, 15.0), (27.63, 14.2), (27.68, 13.8), (27.73, 13.6),
    (27.78, 13.5), (27.82, 13.4), (27.87, 13.2), (27.92, 13.0), (27.97, 12.7), (28.02, 12.4), (28.07, 11.9), (28.11, 12.2),
    (28.16, 13.4), (28.21, 14.6), (28.26, 15.4), (28.31, 15.8), (28.36, 16.6), (28.39, 17.0), (28.41, 16.2), (28.45, 15.8),
    (28.48, 16.5), (28.51, 15.8), (28.55, 15.0), (28.60, 14.6), (28.65, 13.0), (28.70, 13.4), (28.74, 13.5), (28.79, 13.4),
    (28.89, 13.5), (28.99, 13.5), (29.03, 13.4), (29.08, 13.6), (29.13, 13.8), (29.18, 14.6), (29.23, 15.4), (29.28, 16.2),
    (29.32, 16.6), (29.37, 17.0), (29.42, 16.8), (29.47, 16.5), (29.52, 16.6), (29.57, 15.8), (29.61, 15.4), (29.66, 14.6),
    (29.71, 13.8), (29.76, 12.6), (29.81, 11.8), (29.86, 11.6), (29.95, 11.4), (30.05, 11.4), (30.10, 11.8), (30.15, 12.6),
    (30.20, 13.4), (30.24, 14.2), (30.29, 15.0), (30.34, 15.8), (30.39, 15.4), (30.44, 14.6), (30.49, 14.2), (30.53, 14.4),
    (30.58, 13.8), (30.63, 13.4), (30.68, 13.0), (30.73, 12.7), (30.78, 12.6), (30.83, 12.2), (30.87, 11.8), (30.92, 10.9),
    (30.97, 10.3), (31.02, 10.5), (31.07, 10.4), (31.12, 10.5), (31.16, 10.9), (31.21, 12.6), (31.26, 14.2), (31.31, 15.0),
    (31.36, 14.6), (31.41, 15.7), (31.45, 15.0), (31.50, 14.6), (31.55, 14.2), (31.60, 13.8), (31.65, 13.4), (31.70, 13.0),
    (31.74, 12.6), (31.79, 12.4),
]

x_ticks = [1.8, 3.8, 5.8, 7.8, 9.8, 11.8, 13.8, 15.8, 17.8, 19.8, 21.8, 23.8, 25.8, 27.8, 29.8, 31.8]
labels = ['Tuulen nopeus', 'Tuulen suunta', 'Suhteellinen kosteus', 'Lämpötila']

plt.rcParams['font.family'] = ['Liberation Sans', 'DejaVu Sans']
plt.rcParams['font.size'] = 17.8

W, H = 1189, 699
fig = plt.figure(figsize=(W / 100, H / 100), dpi=100)


def box(top, bottom):
    # pixel rows of the panel -> figure fractions
    return [124 / W, 1 - bottom / H, (1157 - 124) / W, (bottom - top) / H]


ax1 = fig.add_axes(box(72, 195.5))
ax2 = fig.add_axes(box(220, 328))
ax3 = fig.add_axes(box(350.5, 459.5))
ax4 = fig.add_axes(box(485, 608.3))
axes = [ax1, ax2, ax3, ax4]

series = [speed_pts, direction_pts, rh_pts, temp_pts]
colors = ['#990077', '#0000ff', '#111111', '#ff0000']
handles = []
for ax, pts, c, lab in zip(axes, series, colors, labels):
    d = np.array(pts, dtype=float)
    line, = ax.plot(d[:, 0], d[:, 1], color=c, lw=2.4, label=lab, clip_on=False)
    handles.append(line)

ax1.set_ylim(0, 10)
ax1.yaxis.set_major_locator(MultipleLocator(2))
ax2.set_ylim(0, 350)
ax2.yaxis.set_major_locator(MultipleLocator(100))
ax2.yaxis.set_minor_locator(MultipleLocator(50))
ax3.set_ylim(20, 100)
ax3.yaxis.set_major_locator(MultipleLocator(20))
ax4.set_ylim(0, 30)
ax4.yaxis.set_major_locator(MultipleLocator(10))
ax4.yaxis.set_minor_locator(MultipleLocator(5))

ylabels = ['Nopeus, m/s', 'Suunta, º', 'RH, %', 't, ºC']
for ax, yl in zip(axes, ylabels):
    ax.set_xlim(1.8, 31.8)
    ax.patch.set_visible(False)
    for s in ['top', 'right']:
        ax.spines[s].set_visible(False)
    ax.spines['left'].set_linewidth(1.1)
    ax.tick_params(axis='y', which='major', direction='out', length=13, width=1.1, pad=6.5)
    ax.tick_params(axis='y', which='minor', direction='out', length=7, width=1.1)
    ax.set_ylabel(yl)
    ax.yaxis.set_label_coords(-0.087, 0.5)
    if ax is not ax4:
        ax.spines['bottom'].set_visible(False)
        ax.xaxis.set_visible(False)

ax4.spines['bottom'].set_position(('outward', 3.6))
ax4.spines['bottom'].set_linewidth(1.1)
ax4.set_xticks(x_ticks)
ax4.set_xticklabels([str(v) for v in x_ticks])
ax4.xaxis.set_minor_locator(MultipleLocator(1))
ax4.tick_params(axis='x', which='major', direction='out', length=13, width=1.1, pad=8)
ax4.tick_params(axis='x', which='minor', direction='out', length=6.5, width=1.1)
ax4.set_xlabel('Päivämäärä', labelpad=6.5)

fig.legend(handles=handles, labels=labels, loc='upper left',
           bbox_to_anchor=(865 / W, 1 - 7 / H), frameon=False,
           handlelength=1.8, handletextpad=0.5, labelspacing=0.2,
           borderpad=0, borderaxespad=0)

fig.savefig('out.png', dpi=100)
